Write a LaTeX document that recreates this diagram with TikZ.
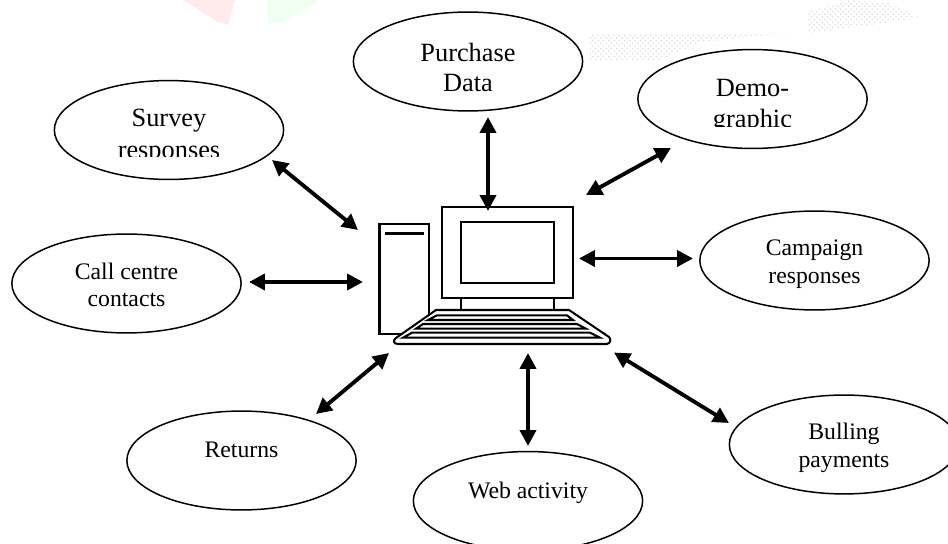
\documentclass[tikz,border=0pt]{standalone}
\usepackage{fontspec}
\setmainfont{Liberation Serif}
\usetikzlibrary{shapes,arrows.meta,patterns}
\tikzstyle{bub}=[ellipse,draw=black,line width=.85pt,fill=white,minimum width=130.5pt,minimum height=56.3pt,inner sep=0pt]
\tikzstyle{arr}=[{Triangle[length=9pt,width=9pt]}-{Triangle[length=9pt,width=9pt]},line width=2.2pt]
\tikzstyle{pc}=[line width=1.15pt,line join=miter]
\tikzstyle{speck}=[pattern=crosshatch dots,pattern color=black!14]
\newcommand{\bubtxt}[4]{\fontsize{#1}{#2}\selectfont\raisebox{#3}[0pt][0pt]{\begin{tabular}{@{}c@{}}#4\end{tabular}}}

\begin{document}
\begin{tikzpicture}[x=.02cm,y=-.02cm]
\useasboundingbox (0,0) rectangle (948,544);
% faint marks along the top
\fill[red!8] (183,0) -- (235,0) -- (228,25) -- (218,22) -- cycle;
\fill[green!6] (267,0) -- (320,0) -- (283,22) -- (268,24) -- cycle;
\fill[speck] (590,35) -- (790,33) -- (700,42) -- (660,60) -- (590,60) -- cycle;
\fill[speck] (808,12) -- (850,0) -- (890,3) -- (920,18) -- (870,25) -- (808,33) -- cycle;
% the bubbles
\node[bub] (purchase) at (468,61.5) {\bubtxt{15}{17}{-8.7pt}{Purchase\\Data}};
\node[bub] (demo) at (752.5,99) {\bubtxt{15}{18}{-7.5pt}{Demo-\\graphic}};
\node[bub] (survey) at (169,130) {\bubtxt{15}{18}{-7.1pt}{Survey\\responses}};
\node[bub] (call) at (126.5,283.5) {\bubtxt{13.5}{15.5}{-6pt}{Call centre\\contacts}};
\node[bub] (campaign) at (814.5,260.5) {\bubtxt{13.5}{16}{-5.3pt}{Campaign\\responses}};
\node[bub] (returns) at (241.5,460.5) {\bubtxt{13.5}{16}{1.1pt}{Returns}};
\node[bub] (web) at (528,501) {\bubtxt{13.5}{16}{1.3pt}{Web activity}};
\node[bub] (bulling) at (844,444.5) {\bubtxt{13.5}{16}{-5.4pt}{Bulling\\payments}};
% descenders are cut off in these two
\fill[white] (110,157) rectangle (228,170);
\fill[white] (700,127) rectangle (805,140);
% the computer
\draw[pc] (379.5,224) rectangle (429,334);
\draw[line width=2.2pt] (385,233.5) -- (424,233.5);
\draw[pc] (442,207) rectangle (573,298);
\draw[pc] (461,222) rectangle (554,283);
\draw[pc] (461,298) -- (461,311);
\draw[pc] (554,298) -- (554,311);
\draw[pc,fill=white] (436,310) -- (569,310) -- (609,337) .. controls (611,339) and (611,343) .. (607,344) -- (398,344) .. controls (393,344) and (393,340) .. (396,338) -- cycle;
\draw[line width=1.15pt] (437,315.3) -- (567,315.3) -- (573,320) -- (428,320) -- cycle;
\draw[line width=1.15pt] (423,324) -- (577,324) -- (586,328.7) -- (416,328.7) -- cycle;
\draw[line width=1.15pt] (412,332.7) -- (590,332.7) -- (600,337.7) -- (403,337.7) -- cycle;
% arrow ends
\coordinate (surveyend) at (272,160);
\coordinate (surveypc) at (358,230);
\coordinate (purchaseend) at (488,117);
\coordinate (purchasepc) at (488,211);
\coordinate (demoend) at (671,148);
\coordinate (demopc) at (586,195);
\coordinate (campaignend) at (693,258.5);
\coordinate (campaignpc) at (579,258.5);
\coordinate (callend) at (249,282);
\coordinate (callpc) at (363,282);
\coordinate (returnsend) at (316,414);
\coordinate (returnspc) at (389,353);
\coordinate (webend) at (528,446);
\coordinate (webpc) at (528,353);
\coordinate (bullingend) at (729,423);
\coordinate (bullingpc) at (614,352.5);
\draw[arr] (surveyend) -- (surveypc);
\draw[arr] (purchaseend) -- (purchasepc);
\draw[arr] (demoend) -- (demopc);
\draw[arr] (campaignend) -- (campaignpc);
\draw[arr] (callend) -- (callpc);
\draw[arr] (returnsend) -- (returnspc);
\draw[arr] (webend) -- (webpc);
\draw[arr] (bullingend) -- (bullingpc);
\end{tikzpicture}
\end{document}
